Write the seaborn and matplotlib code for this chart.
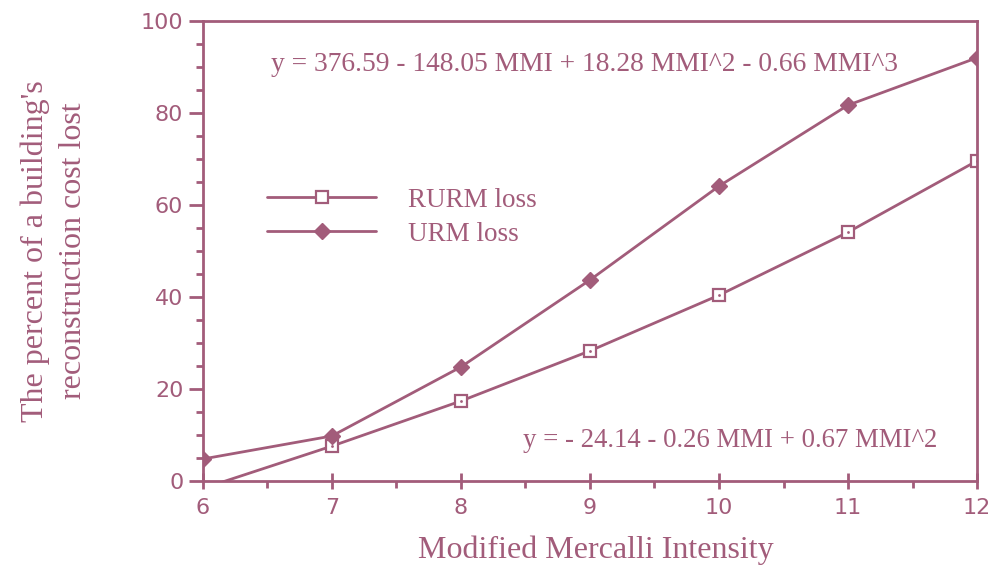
import numpy as np
import pandas as pd
import matplotlib
matplotlib.use("Agg")
import matplotlib.pyplot as plt
import seaborn as sns
from matplotlib.ticker import MultipleLocator

mmi = [6, 7, 8, 9, 10, 11, 12]
rurm_loss = [-1.6, 7.6, 17.4, 28.3, 40.4, 54.1, 69.6]
urm_loss = [4.8, 9.8, 24.8, 43.7, 64.1, 81.7, 92.0]
series_names = ["RURM loss", "URM loss"]
x_ticks = [6, 7, 8, 9, 10, 11, 12]
y_ticks = [0, 20, 40, 60, 80, 100]
eq_urm = "y = 376.59 - 148.05 MMI + 18.28 MMI^2 - 0.66 MMI^3"
eq_rurm = "y = - 24.14 - 0.26 MMI + 0.67 MMI^2"

sns.set_theme(style="white")
SERIF = ["Liberation Serif", "DejaVu Serif"]
plt.rcParams["font.family"] = SERIF

C = "#a25c7a"

fig = plt.figure(figsize=(9.94, 5.66), dpi=100)
ax = fig.add_axes([0.204, 0.150, 0.779, 0.813])

sns.lineplot(x=mmi, y=rurm_loss, color=C, linewidth=2, marker="s",
             markersize=9, markerfacecolor="white", markeredgecolor=C,
             markeredgewidth=1.6, label=series_names[0], ax=ax, legend=False)
sns.lineplot(x=mmi, y=urm_loss, color=C, linewidth=2, marker="D",
             markersize=8, markerfacecolor=C, markeredgecolor=C,
             markeredgewidth=1, label=series_names[1], ax=ax, legend=False)
# center dots in RURM squares
sns.scatterplot(x=mmi, y=rurm_loss, s=4, color=C, edgecolor=C, linewidth=0,
                zorder=5, ax=ax, legend=False)

ax.set_xlim(6, 12)
ax.set_ylim(0, 100)
ax.set_xticks(x_ticks)
ax.set_yticks(y_ticks)
ax.xaxis.set_minor_locator(MultipleLocator(0.5))
ax.yaxis.set_minor_locator(MultipleLocator(5))

for s in ax.spines.values():
    s.set_color(C)
    s.set_linewidth(2)
    s.set_visible(True)

ax.tick_params(axis="x", which="major", direction="inout", length=12, width=2,
               color=C, labelcolor=C, labelsize=16, pad=6, bottom=True)
ax.tick_params(axis="x", which="minor", direction="out", length=5, width=2,
               color=C, bottom=True)
ax.tick_params(axis="y", which="major", direction="out", length=10, width=2,
               color=C, labelcolor=C, labelsize=16, pad=4, left=True)
ax.tick_params(axis="y", which="minor", direction="out", length=5, width=2,
               color=C, left=True)
for lab in ax.get_xticklabels() + ax.get_yticklabels():
    lab.set_family(["DejaVu Sans"])

ax.set_xlabel("Modified Mercalli Intensity", color=C, fontsize=23, labelpad=9)
ax.xaxis.set_label_coords(0.508, -0.119)
ax.set_ylabel("The percent of a building's\nreconstruction cost lost", color=C,
              fontsize=23, labelpad=38, linespacing=1.4)

ax.text(0.493, 0.905, eq_urm, transform=ax.transAxes, ha="center", va="center",
        color=C, fontsize=19.8)
ax.text(0.949, 0.088, eq_rurm, transform=ax.transAxes, ha="right", va="center",
        color=C, fontsize=19.3)

handles = ax.get_lines()[:2]
leg = ax.legend(handles=handles, labels=series_names, loc="upper left",
                bbox_to_anchor=(0.052, 0.69), frameon=False, numpoints=1,
                fontsize=19.5, handlelength=4.0, handletextpad=1.2,
                labelspacing=0.32, labelcolor=C)

fig.savefig("out.png", dpi=100)
